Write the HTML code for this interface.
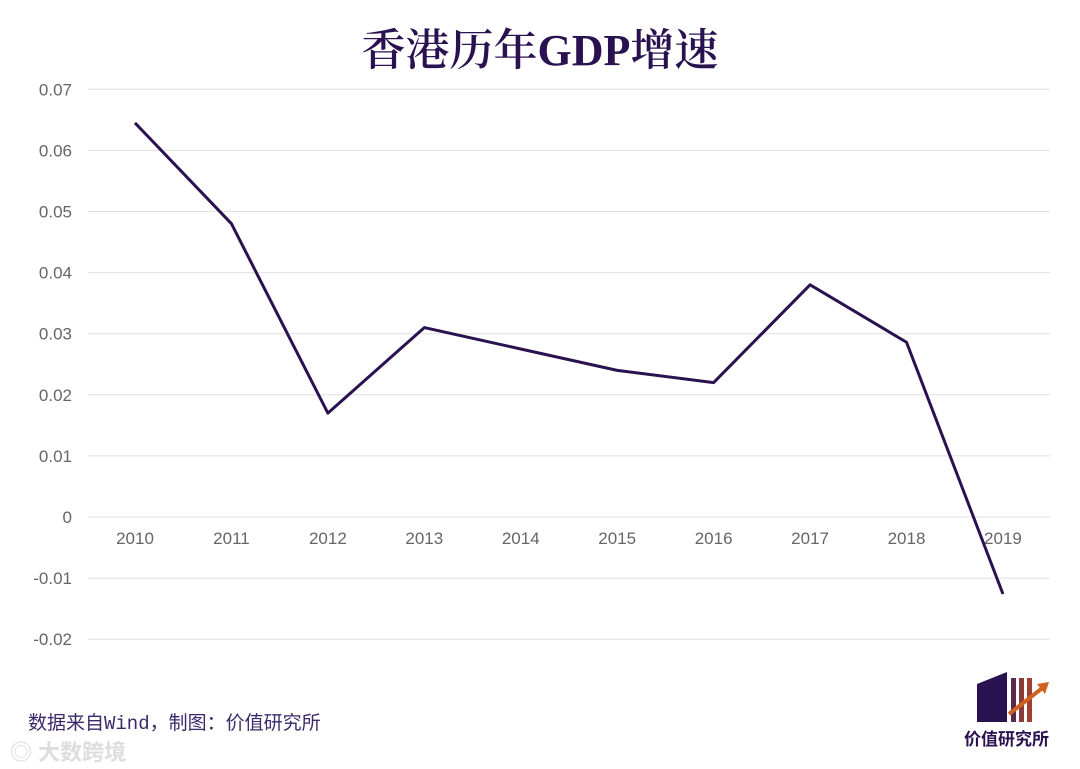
<!DOCTYPE html>
<html><head><meta charset="utf-8"><style>
body{margin:0;background:#fff;}
#wrap{position:relative;width:1080px;height:769px;overflow:hidden;font-family:"Liberation Sans","Noto Sans CJK SC",sans-serif;}
#title{position:absolute;left:0;top:14px;width:1080px;text-align:center;font-family:"Liberation Serif","Noto Serif CJK SC",serif;font-size:44px;color:#2a1250;font-weight:600;}
#src{position:absolute;left:28px;top:708px;font-size:19px;color:#3a2a6a;font-family:"Liberation Mono","Noto Sans CJK SC",monospace;}
#wm{position:absolute;left:10px;top:735px;font-size:22px;color:#ddd;font-weight:bold;}
#logo-text{position:absolute;left:964px;top:725px;font-size:17px;color:#2a1250;font-weight:bold;}
</style></head><body>
<div id="wrap">
<div id="title">香港历年GDP增速</div>
<svg id="svg" width="1080" height="769" style="position:absolute;left:0;top:0"></svg>
<div id="src">数据来自Wind，制图：价值研究所</div>
<div id="wm">◎ 大数跨境</div>
<svg style="position:absolute;left:975px;top:670px" width="80" height="55">
<polygon points="2,14 32,2 32,52 2,52" fill="#2a1250"/>
<rect x="36" y="8" width="5" height="44" fill="#5a2a4a"/>
<rect x="44" y="8" width="5" height="44" fill="#8a3a3a"/>
<rect x="52" y="8" width="5" height="44" fill="#a04030"/>
<line x1="34" y1="44" x2="70" y2="16" stroke="#d06020" stroke-width="4"/>
<polygon points="74,12 62,14 70,24" fill="#d06020"/>
</svg>
<div id="logo-text">价值研究所</div>
</div>
<script>
const categories=["2010","2011","2012","2013","2014","2015","2016","2017","2018","2019"];
const values=[0.0645,0.048,0.017,0.031,0.0275,0.024,0.022,0.038,0.0286,-0.0126];
const yTicks=[0.07,0.06,0.05,0.04,0.03,0.02,0.01,0,-0.01,-0.02];
const yTickLabels=["0.07","0.06","0.05","0.04","0.03","0.02","0.01","0","-0.01","-0.02"];
const NS="http://www.w3.org/2000/svg";
const svg=document.getElementById('svg');
const y=v=>517-v*6110;
const x=i=>135+i*96.44;
function mk(t,a){const e=document.createElementNS(NS,t);for(const k in a)e.setAttribute(k,a[k]);svg.appendChild(e);return e;}
yTicks.forEach((t,i)=>{
 const g=mk('line',{x1:88,x2:1050,y1:y(t),y2:y(t),stroke:'#e0e0e0','stroke-width':1});
 
 
 const l=mk('text',{x:72,y:y(t)+6,'text-anchor':'end','font-size':17,fill:'#666','font-family':'Liberation Sans'});
 l.textContent=yTickLabels[i];
 
 
});
categories.forEach((c,i)=>{
 const l=mk('text',{x:x(i),y:y(0)+27,'text-anchor':'middle','font-size':17,fill:'#666','font-family':'Liberation Sans'});
 l.textContent=c;
 
 
});
const p=mk('polyline',{points:values.map((v,i)=>x(i)+','+y(v)).join(' '),fill:'none',stroke:'#2a1250','stroke-width':3,'stroke-linejoin':'round'});


</script>
</body></html>
